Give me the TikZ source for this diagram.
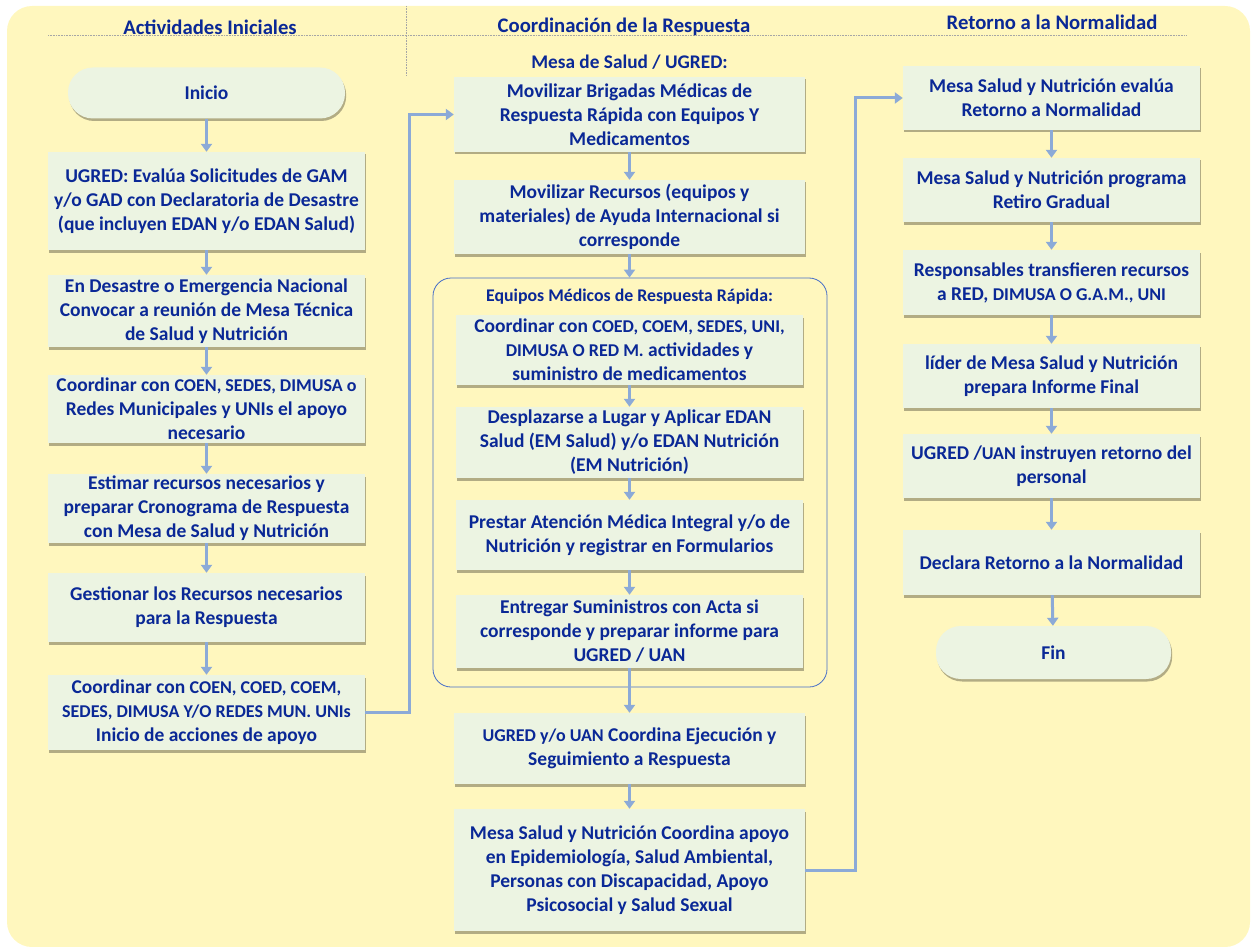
\documentclass[tikz,border=0pt]{standalone}
\usepackage{fontspec}
\setmainfont{Carlito}
\usetikzlibrary{arrows.meta,shadows,calc}
\definecolor{bgyel}{RGB}{255,247,190}
\definecolor{boxfill}{RGB}{236,244,226}
\definecolor{txtblue}{RGB}{10,40,150}
\definecolor{arrblue}{RGB}{140,170,215}
\definecolor{grpblue}{RGB}{70,110,200}
\newcommand{\sm}{\fontsize{18}{24}\selectfont}
\begin{document}
\begin{tikzpicture}[x=1pt,y=-1pt,
  box/.style={fill=boxfill, text=txtblue, font=\bfseries\fontsize{19.5}{24}\selectfont,
    align=center, inner sep=0pt,
    drop shadow={shadow xshift=1.2pt, shadow yshift=-2.5pt, fill=black, opacity=0.3}},
  term/.style={box, rounded corners=25pt},
  hdr/.style={text=txtblue, font=\bfseries\fontsize{20.7}{24}\selectfont, inner sep=0pt},
  lbl/.style={text=txtblue, font=\bfseries\fontsize{17.8}{20}\selectfont, inner sep=0pt},
  arr/.style={draw=arrblue, line width=3pt, -{Triangle[width=11pt,length=8pt]}},
  grp/.style={draw=grpblue, line width=0.8pt, rounded corners=18pt},
  dotl/.style={draw=gray!70, line width=0.6pt, dash pattern=on 0.8pt off 0.8pt}]
\useasboundingbox (0,0) rectangle (1251,947);
\fill[bgyel, rounded corners=25pt] (7,6) rectangle (1250,947);
% headers
\draw[dotl] (48,35) -- (1187,35);
\draw[dotl] (406,6) -- (406,75);
\node[hdr] (h1) at (210,27) {Actividades Iniciales};
\node[hdr] (h2) at (624,27) {Coordinación de la Respuesta};
\node[hdr] (h3) at (1052,22) {Retorno a la Normalidad};
% left column
\node[term, minimum width=277, minimum height=51] (ini) at (206.5,93) {Inicio};
\node[box, minimum width=317, minimum height=98] (L1) at (206.5,201) {UGRED: Evalúa Solicitudes de GAM\\ y/o GAD con Declaratoria de Desastre\\ (que incluyen EDAN y/o EDAN Salud)};
\node[box, minimum width=317, minimum height=72] (L2) at (206.5,311) {En Desastre o Emergencia Nacional\\ Convocar a reunión de Mesa Técnica\\ de Salud y Nutrición};
\node[box, minimum width=317, minimum height=68] (L3) at (206.5,409) {Coordinar con {\sm COEN, SEDES, DIMUSA o}\\ Redes Municipales y UNIs el apoyo\\ necesario};
\node[box, minimum width=317, minimum height=69] (L4) at (206.5,508.5) {Estimar recursos necesarios y\\ preparar Cronograma de Respuesta\\ con Mesa de Salud y Nutrición};
\node[box, minimum width=317, minimum height=69] (L5) at (206.5,607.5) {Gestionar los Recursos necesarios\\ para la Respuesta};
\node[box, minimum width=317, minimum height=75] (L6) at (206.5,712.5) {Coordinar con {\sm COEN, COED, COEM,}\\ {\sm SEDES, DIMUSA Y/O REDES MUN. UNIs}\\ Inicio de acciones de apoyo};
% middle column
\node[lbl, font=\bfseries\fontsize{19.3}{22}\selectfont] (ms) at (629.5,62) {Mesa de Salud / UGRED:};
\node[box, minimum width=351, minimum height=75] (M1) at (629.5,114.5) {Movilizar Brigadas Médicas de\\ Respuesta Rápida con Equipos Y\\ Medicamentos};
\node[box, minimum width=351, minimum height=74] (M2) at (629.5,217) {Movilizar Recursos (equipos y\\ materiales) de Ayuda Internacional si\\ corresponde};
\node[grp, minimum width=394, minimum height=409] (G) at (630,482.5) {};
\node[lbl] (gl) at (629.5,297) {Equipos Médicos de Respuesta Rápida:};
\node[box, minimum width=347, minimum height=70] (I1) at (629.5,350) {Coordinar con {\sm COED, COEM, SEDES, UNI,}\\ {\sm DIMUSA O RED M.} actividades y\\ suministro de medicamentos};
\node[box, minimum width=347, minimum height=71] (I2) at (629.5,442.5) {Desplazarse a Lugar y Aplicar EDAN\\ Salud (EM Salud) y/o EDAN Nutrición\\ (EM Nutrición)};
\node[box, minimum width=347, minimum height=70] (I3) at (629.5,535) {Prestar Atención Médica Integral y/o de\\ Nutrición y registrar en Formularios};
\node[box, minimum width=347, minimum height=73] (I4) at (629.5,631.5) {Entregar Suministros con Acta si\\ corresponde y preparar informe para\\ UGRED / UAN};
\node[box, minimum width=351, minimum height=71] (M3) at (629.5,748.5) {{\sm UGRED y/o UAN} Coordina Ejecución y\\ Seguimiento a Respuesta};
\node[box, minimum width=351, minimum height=122] (M4) at (629.5,870) {Mesa Salud y Nutrición Coordina apoyo\\ en Epidemiología, Salud Ambiental,\\ Personas con Discapacidad, Apoyo\\ Psicosocial y Salud Sexual};
% right column
\node[box, minimum width=297, minimum height=64] (R1) at (1051.5,98) {Mesa Salud y Nutrición evalúa\\ Retorno a Normalidad};
\node[box, minimum width=297, minimum height=64] (R2) at (1051.5,190) {Mesa Salud y Nutrición programa\\ Retiro Gradual};
\node[box, minimum width=297, minimum height=65] (R3) at (1051.5,282.5) {Responsables transfieren recursos\\ a RED, {\sm DIMUSA O G.A.M., UNI}};
\node[box, minimum width=297, minimum height=64] (R4) at (1051.5,376) {líder de Mesa Salud y Nutrición\\ prepara Informe Final};
\node[box, minimum width=297, minimum height=64] (R5) at (1051.5,466) {UGRED /{\sm UAN} instruyen retorno del\\ personal};
\node[box, minimum width=297, minimum height=65] (R6) at (1051.5,562.5) {Declara Retorno a la Normalidad};
\node[term, minimum width=235, minimum height=53] (fin) at (1053.5,652.5) {Fin};
% connectors
\coordinate (c1) at (409,0);
\coordinate (c2) at (855,0);
\draw[arr] (ini) -- (L1);
\draw[arr] (L1) -- (L2);
\draw[arr] (L2) -- (L3);
\draw[arr] (L3) -- (L4);
\draw[arr] (L4) -- (L5);
\draw[arr] (L5) -- (L6);
\draw[arr] (L6.east) -- (L6.east -| c1) |- (M1.west);
\draw[arr] (M1) -- (M2);
\draw[arr] (M2) -- (M2 |- G.north);
\draw[arr] (I1) -- (I2);
\draw[arr] (I2) -- (I3);
\draw[arr] (I3) -- (I4);
\draw[arr] (I4) -- (M3);
\draw[arr] (M3) -- (M4);
\draw[arr] (M4.east) -- (M4.east -| c2) |- (R1.west);
\draw[arr] (R1) -- (R2);
\draw[arr] (R2) -- (R3);
\draw[arr] (R3) -- (R4);
\draw[arr] (R4) -- (R5);
\draw[arr] (R5) -- (R6);
\draw[arr] (R6) -- (fin);
\end{tikzpicture}
\end{document}
